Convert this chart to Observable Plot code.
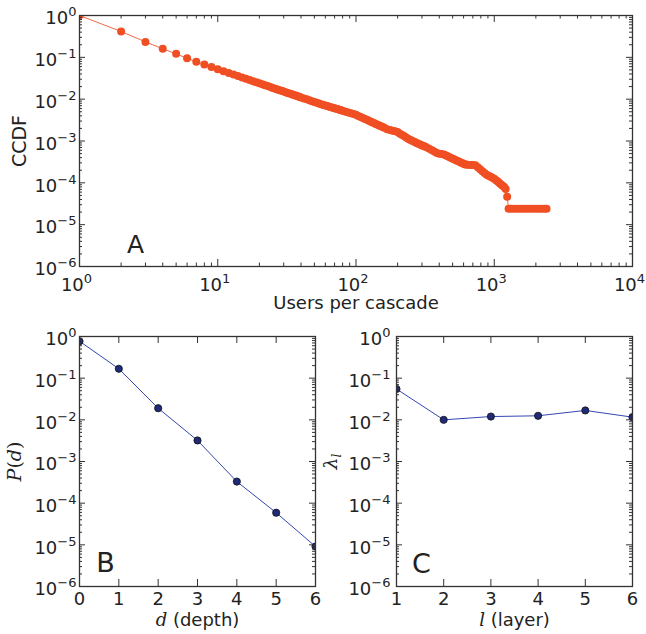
<!DOCTYPE html>
<html><head><meta charset="utf-8">
<script src="https://cdn.jsdelivr.net/npm/d3@7"></script>
<script src="https://cdn.jsdelivr.net/npm/@observablehq/plot@0.6"></script>
<style>
body{margin:0;background:#fff;}
#fig{position:relative;width:646px;height:634px;background:#fff;}
#fig svg{position:absolute;overflow:visible;}
</style></head><body><div id="fig"></div>
<script>
// Panel A: CCDF of users per cascade
const cascadeSize = [1,2,3,4,5,6,7,8,9,10,11,12,13,14,15,16,17,18,19,20,21,22,23,24,25,26,27,28,29,30,31,32,33,34,35,36,37,38,39,40,
  42,44,46,48,50,52,54,56,58,60,62,64,66,68,70,72,74,76,78,80,
  84,88,92,96,100,104,108,112,116,120,124,128,132,136,140,144,148,152,156,160,
  168,176,184,192,200,208,216,224,232,240,248,256,264,272,280,288,296,304,312,320,
  336,352,368,384,400,416,432,448,464,480,496,512,528,544,560,576,592,608,624,640,
  670,700,730,760,790,820,850,880,910,940,970,1000,1030,1060,1090,1120,1150,1180,1210,1240,
  1270,1330,1400,1470,1540,1620,1700,1790,1880,1980,2080,2180,2290,2390];
const ccdf = [1,0.415,0.234,0.16,0.121,0.095,0.078,0.0675,0.059,0.052,
  0.0467,0.0424,0.0388,0.0357,0.0330,0.0307,0.0287,0.0269,0.0253,0.0239,
  0.0227,0.0215,0.0205,0.0195,0.0186,0.0178,0.0171,0.0164,0.0158,0.0152,
  0.0146,0.0141,0.0137,0.0132,0.0128,0.0124,0.0120,0.0117,0.0113,0.0110,
  0.01042,0.00989,0.00941,0.00897,0.00857,0.00820,0.00786,0.00755,0.00729,0.00705,
  0.00682,0.00660,0.00640,0.00621,0.00604,0.00587,0.00571,0.00556,0.00542,0.00528,
  0.00503,0.00480,0.00459,0.00440,0.00423,0.00398,0.00376,0.00356,0.00337,0.00320,
  0.00305,0.00290,0.00277,0.00265,0.00253,0.00243,0.00233,0.00224,0.00215,0.00207,
  0.00192,0.00184,0.00177,0.00170,0.00163,0.00150,0.00139,0.00129,0.00120,0.00112,
  0.00105,0.000999,0.000954,0.000912,0.000874,0.000838,0.000804,0.000773,0.000744,0.000716,
  0.000659,0.000607,0.000560,0.000520,0.000495,0.000486,0.000475,0.000449,0.000425,0.000404,
  0.000384,0.000365,0.000348,0.000332,0.000318,0.000304,0.000292,0.000280,0.000274,0.000270,
  0.000268,0.000266,0.000263,0.000235,0.000211,0.000190,0.000172,0.000155,0.000147,0.000139,
  0.000133,0.000126,0.000116,0.000107,0.0000989,0.0000917,0.0000851,0.0000794,0.0000708,0.0000468,
  0.000024,0.000024,0.000024,0.000024,0.000024,0.000024,0.000024,0.000024,0.000024,0.000024,0.000024,0.000024,0.000024,0.000024];
// Panel B: depth distribution
const depth = [0,1,2,3,4,5,6];
const depthProb = [0.77,0.168,0.019,0.0032,0.00033,0.000059,0.0000091];
// Panel C: lambda per layer
const layer = [1,2,3,4,5,6];
const lambdaL = [0.055,0.0100,0.012,0.0125,0.0168,0.0116];
// tick labels
const yMajor = [1e-6,1e-5,1e-4,1e-3,1e-2,1e-1,1];
const xMajorA = [1,10,100,1000,10000];
const xTicksB = [0,1,2,3,4,5,6];
const xTicksC = [1,2,3,4,5,6];
const panelLetters = ["A","B","C"];
const labels = {A: {x: "Users per cascade", y: "CCDF"}, B: {x: "d (depth)", y: "P(d)"}, C: {x: "l (layer)", y: "λl"}};

const dataA = cascadeSize.map((v, i) => ({v, p: ccdf[i]}));
const dataB = depth.map((d, i) => ({d, p: depthProb[i]}));
const dataC = layer.map((l, i) => ({l, p: lambdaL[i]}));

const minorLog = (lo, hi) => { const out = []; for (let e = lo; e < hi; e++) for (let k = 2; k <= 9; k++) out.push(k * Math.pow(10, e)); return out; };
const yMinor = minorLog(-6, 0);
const xMinorA = minorLog(0, 4);

const AX = "#333";
const FONT = "DejaVu Sans";
const supFmt = d => "10^" + Math.round(Math.log10(d));
const T = {textAnchor: "middle", lineAnchor: "middle"};

function boxTicks({xMajor, xMinor = [], iw, ih}) {
  const M = 7, m = 3.5, YM = 6, ym = 3;
  const o = {stroke: AX, strokeWidth: 1};
  return [
    Plot.tickX(xMajor, {x: d => d, insetTop: ih - M, ...o}),
    Plot.tickX(xMajor, {x: d => d, insetBottom: ih - M, ...o}),
    Plot.tickX(xMinor, {x: d => d, insetTop: ih - m, ...o}),
    Plot.tickX(xMinor, {x: d => d, insetBottom: ih - m, ...o}),
    Plot.tickY(yMajor, {y: d => d, insetRight: iw - YM, ...o}),
    Plot.tickY(yMajor, {y: d => d, insetLeft: iw - YM, ...o}),
    Plot.tickY(yMinor, {y: d => d, insetRight: iw - ym, ...o}),
    Plot.tickY(yMinor, {y: d => d, insetLeft: iw - ym, ...o})
  ];
}

const fig = document.getElementById("fig");
function place(svg, left, top) { svg.style.left = left + "px"; svg.style.top = top + "px"; fig.appendChild(svg); }
const baseStyle = {fontFamily: FONT, fontSize: "18px", color: "#222", background: "transparent"};

// Panel A
{
  const W = 646, H = 315, ml = 79, mr = 14, mt = 15, mb = 49;
  const iw = W - ml - mr, ih = H - mt - mb;
  const svg = Plot.plot({
    width: W, height: H, marginLeft: ml, marginRight: mr, marginTop: mt, marginBottom: mb,
    style: baseStyle,
    x: {type: "log", domain: [1, 1e4], axis: null},
    y: {type: "log", domain: [1e-6, 1], axis: null},
    marks: [
      Plot.line(dataA, {x: "v", y: "p", stroke: "#f26a45", strokeWidth: 1, clip: true}),
      Plot.dot(dataA, {x: "v", y: "p", r: 4, fill: "#f04e23", stroke: "none", clip: true}),
      ...boxTicks({xMajor: xMajorA, xMinor: xMinorA, iw, ih}),
      Plot.frame({stroke: AX, strokeWidth: 1.3}),
      Plot.axisX(xMajorA, {anchor: "bottom", tickSize: 0, tickPadding: 12, dx: -3, tickFormat: supFmt, fontSize: 18, label: null}),
      Plot.axisY(yMajor, {anchor: "left", tickSize: 0, tickPadding: 3, dy: 3, tickFormat: supFmt, fontSize: 18, label: null}),
      Plot.text([labels.A.x], {frameAnchor: "bottom", dy: 37, fontSize: 18, ...T}),
      Plot.text([labels.A.y], {frameAnchor: "left", rotate: -90, dx: -60, fontSize: 19, ...T}),
      Plot.text([panelLetters[0]], {frameAnchor: "bottom-left", dx: 56, dy: -21.5, fontSize: 25, ...T})
    ]
  });
  place(svg, 0, 0);
}
// Panel B
{
  const W = 323, H = 319, ml = 79, mr = 8, mt = 21, mb = 48;
  const iw = W - ml - mr, ih = H - mt - mb;
  const svg = Plot.plot({
    width: W, height: H, marginLeft: ml, marginRight: mr, marginTop: mt, marginBottom: mb,
    style: baseStyle,
    x: {domain: [0, 6], axis: null},
    y: {type: "log", domain: [1e-6, 1], axis: null},
    marks: [
      Plot.line(dataB, {x: "d", y: "p", stroke: "#3447b0", strokeWidth: 1, clip: true}),
      Plot.dot(dataB, {x: "d", y: "p", r: 3.6, fill: "#1f2a78", stroke: "#111", strokeWidth: 0.8, clip: true}),
      ...boxTicks({xMajor: xTicksB, iw, ih}),
      Plot.frame({stroke: AX, strokeWidth: 1.3}),
      Plot.axisX(xTicksB, {anchor: "bottom", tickSize: 0, tickPadding: 6, tickFormat: d => String(d), fontSize: 18, label: null}),
      Plot.axisY(yMajor, {anchor: "left", tickSize: 0, tickPadding: 3, dy: 3, tickFormat: supFmt, fontSize: 18, label: null}),
      Plot.text([labels.B.x], {frameAnchor: "bottom", dy: 34, fontSize: 18, ...T}),
      Plot.text([labels.B.y], {frameAnchor: "left", rotate: -90, dx: -65, fontSize: 19, ...T}),
      Plot.text([panelLetters[1]], {frameAnchor: "bottom-left", dx: 26, dy: -23, fontSize: 27, ...T})
    ]
  });
  place(svg, 0, 315);
}
// Panel C
{
  const W = 323, H = 319, ml = 73, mr = 14, mt = 21, mb = 48;
  const iw = W - ml - mr, ih = H - mt - mb;
  const svg = Plot.plot({
    width: W, height: H, marginLeft: ml, marginRight: mr, marginTop: mt, marginBottom: mb,
    style: baseStyle,
    x: {domain: [1, 6], axis: null},
    y: {type: "log", domain: [1e-6, 1], axis: null},
    marks: [
      Plot.line(dataC, {x: "l", y: "p", stroke: "#3447b0", strokeWidth: 1, clip: true}),
      Plot.dot(dataC, {x: "l", y: "p", r: 3.6, fill: "#1f2a78", stroke: "#111", strokeWidth: 0.8, clip: true}),
      ...boxTicks({xMajor: xTicksC, iw, ih}),
      Plot.frame({stroke: AX, strokeWidth: 1.3}),
      Plot.axisX(xTicksC, {anchor: "bottom", tickSize: 0, tickPadding: 6, tickFormat: d => String(d), fontSize: 18, label: null}),
      Plot.axisY(yMajor, {anchor: "left", tickSize: 0, tickPadding: 6, dy: 3, tickFormat: supFmt, fontSize: 18, label: null}),
      Plot.text([labels.C.x], {frameAnchor: "bottom", dy: 34, fontSize: 18, ...T}),
      Plot.text([labels.C.y], {frameAnchor: "left", rotate: -90, dx: -66, fontSize: 19, ...T}),
      Plot.text([panelLetters[2]], {frameAnchor: "bottom-left", dx: 25, dy: -22, fontSize: 27, ...T})
    ]
  });
  place(svg, 323, 315);
}

// Rich text: superscripts and math italics
const SERIF = 'font-family="DejaVu Serif"';
const rich = {
  "P(d)": `<tspan ${SERIF} font-style="italic">P</tspan><tspan ${SERIF}>(</tspan><tspan ${SERIF} font-style="italic">d</tspan><tspan ${SERIF}>)</tspan>`,
  "λl": `<tspan ${SERIF} font-style="italic">λ</tspan><tspan ${SERIF} font-style="italic" font-size="12" dy="4">l</tspan>`,
  "d (depth)": `<tspan ${SERIF} font-style="italic">d</tspan> (depth)`,
  "l (layer)": `<tspan ${SERIF} font-style="italic">l</tspan> (layer)`
};
fig.querySelectorAll("text").forEach(t => {
  const s = t.textContent;
  const m = /^10\^(-?\d+)$/.exec(s);
  if (m) {
    t.innerHTML = `10<tspan font-size="13" dy="-8">${m[1].replace("-", "\u2212")}</tspan>`;
  } else if (rich[s]) {
    t.innerHTML = rich[s];
  }
});
</script></body></html>
